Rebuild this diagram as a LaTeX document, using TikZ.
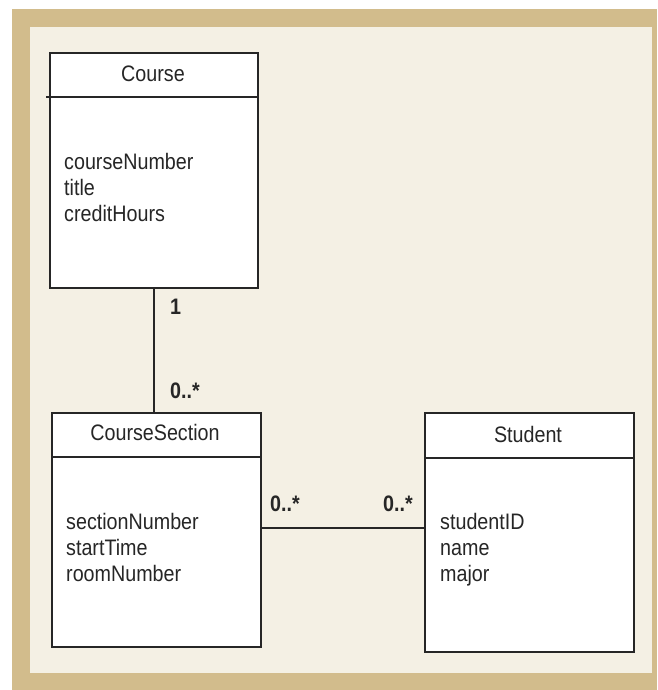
\documentclass[tikz,border=0pt]{standalone}
\usepackage{fontspec}
\setmainfont{Liberation Sans}[FakeStretch=0.88]
\begin{document}
\begin{tikzpicture}[x=1pt,y=-1pt,
  frameline/.style={draw=black!85, line width=1.6pt},
  classbox/.style={frameline, fill=white, anchor=north west, inner sep=0pt},
  classname/.style={anchor=base, inner sep=0pt, font=\fontsize{22.4}{26}\selectfont, text=black!85},
  attr/.style={anchor=base west, inner sep=0pt, font=\fontsize{22.4}{26}\selectfont, text=black!85},
  mult/.style={anchor=base west, inner sep=0pt, font=\fontsize{22.4}{26}\selectfont\bfseries, text=black!85}]
\definecolor{tanframe}{RGB}{210,188,140}
\definecolor{cream}{RGB}{244,240,228}
\useasboundingbox (0,0) rectangle (657,690);
% background panel
\fill[tanframe] (12,9) rectangle (657,690);
\fill[cream] (30,27) rectangle (652,673);

% Course class
\node[classbox, minimum width=208pt, minimum height=235pt] (course) at (49,52) {};
\draw[frameline] (46,97) -- (course.north east |- 0,97);
\node[classname] (courseT) at (153,82) {Course};
\node[attr] (c1) at (64,169) {courseNumber};
\node[attr] (c2) at (64,195) {title};
\node[attr] (c3) at (64,221) {creditHours};

% CourseSection class
\node[classbox, minimum width=209pt, minimum height=234pt] (section) at (51,412) {};
\draw[frameline] (section.west |- 0,457) -- (section.east |- 0,457);
\node[classname] (sectionT) at (155,440) {CourseSection};
\node[attr] (s1) at (66,529) {sectionNumber};
\node[attr] (s2) at (66,555) {startTime};
\node[attr] (s3) at (66,581) {roomNumber};

% Student class
\node[classbox, minimum width=209pt, minimum height=239pt] (student) at (424,412) {};
\draw[frameline] (student.west |- 0,458) -- (student.east |- 0,458);
\node[classname] (studentT) at (528,442) {Student};
\node[attr] (t1) at (440,529) {studentID};
\node[attr] (t2) at (440,555) {name};
\node[attr] (t3) at (440,581) {major};

% associations
\coordinate (cs) at (154,287);
\draw[frameline] (cs |- course.south) -- (cs |- section.north);
\node[mult] (m1) at (170,314) {1};
\node[mult] (m2) at (170,398) {0..*};

\draw[frameline] (section.east |- 0,528) -- (student.west |- 0,528);
\node[mult] (m3) at (270,511) {0..*};
\node[mult] (m4) at (383,511) {0..*};
\end{tikzpicture}
\end{document}
